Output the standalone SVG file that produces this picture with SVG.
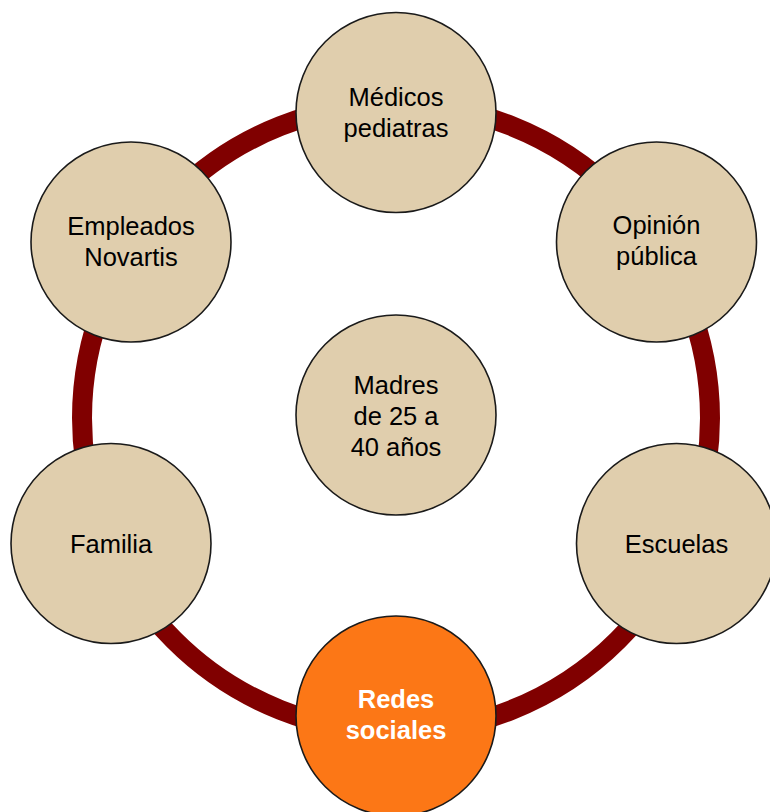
<svg xmlns="http://www.w3.org/2000/svg" width="770" height="812" viewBox="0 0 770 812">
<style>
.n{fill:#E0CEAD;stroke:#1a1a1a;stroke-width:1.6}
.hl{fill:#FC7716;stroke:#1a1a1a;stroke-width:1.6}
.t{font-family:"Liberation Sans",Arial,sans-serif;font-size:25.5px;fill:#000;text-anchor:middle}
.tw{font-family:"Liberation Sans",Arial,sans-serif;font-size:25.5px;font-weight:bold;fill:#fff;text-anchor:middle}
.ring{fill:none;stroke:#800000;stroke-width:20}
</style>
<rect width="770" height="812" fill="#fff"/>
<g id="connectors">
<circle class="ring" cx="396" cy="418" r="314"/>
</g>
<g id="medicos">
<circle class="n" cx="396" cy="112.5" r="100"/>
<text class="t" x="396" y="106">Médicos</text>
<text class="t" x="396" y="137">pediatras</text>
</g>
<g id="opinion">
<circle class="n" cx="656.5" cy="242" r="100"/>
<text class="t" x="656.5" y="234">Opinión</text>
<text class="t" x="656.5" y="265">pública</text>
</g>
<g id="escuelas">
<circle class="n" cx="676.5" cy="543.5" r="100"/>
<text class="t" x="676.5" y="553">Escuelas</text>
</g>
<g id="redes">
<circle class="hl" cx="396" cy="716" r="100"/>
<text class="tw" x="396" y="708">Redes</text>
<text class="tw" x="396" y="739">sociales</text>
</g>
<g id="familia">
<circle class="n" cx="111" cy="543.5" r="100"/>
<text class="t" x="111" y="553">Familia</text>
</g>
<g id="empleados">
<circle class="n" cx="131" cy="242" r="100"/>
<text class="t" x="131" y="235">Empleados</text>
<text class="t" x="131" y="266">Novartis</text>
</g>
<g id="madres">
<circle class="n" cx="396" cy="415" r="100"/>
<text class="t" x="396" y="394">Madres</text>
<text class="t" x="396" y="425">de 25 a</text>
<text class="t" x="396" y="456">40 años</text>
</g>
</svg>
